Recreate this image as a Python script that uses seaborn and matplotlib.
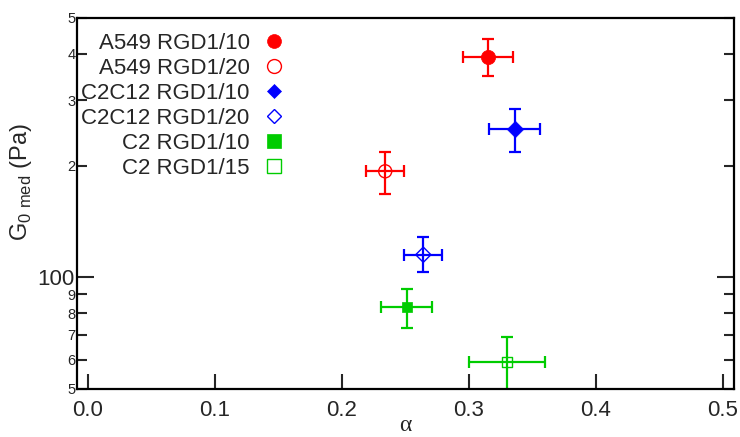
import matplotlib
matplotlib.use("Agg")
import matplotlib.pyplot as plt
from matplotlib.ticker import FixedLocator, FixedFormatter
from matplotlib.lines import Line2D
import seaborn as sns
import pandas as pd

# Sample groups
labels = ["A549 RGD1/10", "A549 RGD1/20", "C2C12 RGD1/10",
          "C2C12 RGD1/20", "C2 RGD1/10", "C2 RGD1/15"]
alpha = [0.315, 0.234, 0.336, 0.264, 0.251, 0.330]
alpha_err = [0.020, 0.015, 0.020, 0.015, 0.020, 0.030]
g0 = [393, 193, 251, 115, 83, 59]
g0_lo = [348, 168, 218, 103, 73, 49]
g0_hi = [438, 218, 284, 128, 93, 69]

colors = ["#ff0000", "#ff0000", "#0000ff", "#0000ff", "#00cc00", "#00cc00"]
markers = ["o", "o", "D", "D", "s", "s"]
filled = [True, False, True, False, True, False]
sizes = [105, 88, 70, 60, 55, 52]
legend_ms = [10, 10, 7, 7, 9.5, 9.5]

df = pd.DataFrame({"label": labels, "alpha": alpha, "g0": g0})

sns.set_style("ticks")
plt.rcParams["font.family"] = ["Liberation Sans", "DejaVu Sans"]

fig = plt.figure(figsize=(7.4, 4.37), dpi=100)
ax = fig.add_axes([0.104, 0.110, 0.888, 0.849])

handles = []
for i, lab in enumerate(labels):
    c = colors[i]
    yerr = [[g0[i] - g0_lo[i]], [g0_hi[i] - g0[i]]]
    ax.errorbar([alpha[i]], [g0[i]], xerr=[alpha_err[i]], yerr=yerr,
                fmt="none", ecolor=c, elinewidth=1.6, capsize=4,
                capthick=1.6, zorder=2)
    sub = df[df["label"] == lab]
    if filled[i]:
        sns.scatterplot(data=sub, x="alpha", y="g0", ax=ax, marker=markers[i],
                        s=sizes[i], color=c, edgecolor=c, linewidth=0.5,
                        zorder=3, legend=False)
    else:
        sns.scatterplot(data=sub, x="alpha", y="g0", ax=ax, marker=markers[i],
                        s=sizes[i], facecolor="none", edgecolor=c,
                        linewidth=1.0, zorder=3, legend=False)
    handles.append(Line2D([], [], linestyle="none", marker=markers[i],
                          markersize=legend_ms[i],
                          markerfacecolor=c if filled[i] else "none",
                          markeredgecolor=c,
                          markeredgewidth=0.5 if filled[i] else 1.0,
                          label=lab))

ax.set_yscale("log")
ax.set_xlim(-0.0087, 0.5087)
ax.set_ylim(50, 500)

# x axis
ax.set_xticks([0.0, 0.1, 0.2, 0.3, 0.4, 0.5])
ax.set_xticklabels(["0.0", "0.1", "0.2", "0.3", "0.4", "0.5"], fontsize=16)
ax.tick_params(axis="x", direction="in", length=11, width=1.5, pad=8,
               top=False, bottom=True)

# y axis on log scale: one labelled decade mark plus digit labels
ax.yaxis.set_major_locator(FixedLocator([100]))
ax.yaxis.set_major_formatter(FixedFormatter(["100"]))
minor_pos = [50, 60, 70, 80, 90, 200, 300, 400, 500]
minor_lab = ["5", "6", "7", "8", "9", "2", "3", "4", "5"]
ax.yaxis.set_minor_locator(FixedLocator(minor_pos))
ax.yaxis.set_minor_formatter(FixedFormatter(minor_lab))
ax.tick_params(axis="y", which="major", direction="in", length=12, width=1.5,
               labelsize=16, left=True, right=True, pad=2)
ax.tick_params(axis="y", which="minor", direction="in", length=7, width=1.5,
               labelsize=10.5, left=True, right=True, pad=1)

for sp in ax.spines.values():
    sp.set_linewidth(1.6)
    sp.set_color("black")

ax.set_xlabel("α", fontsize=17, family="Liberation Serif", labelpad=-4)
ax.set_ylabel(r"G$_{\mathregular{0\ med}}$ (Pa)", fontsize=17)
ax.yaxis.set_label_coords(-0.066, 0.558)

ax.legend(handles=handles, loc="upper left", bbox_to_anchor=(-0.007, 0.983),
          frameon=False, markerfirst=False, fontsize=16,
          handletextpad=0.6, labelspacing=0.18, borderaxespad=0.0,
          handlelength=1.0)

fig.savefig("out.png", dpi=100)
